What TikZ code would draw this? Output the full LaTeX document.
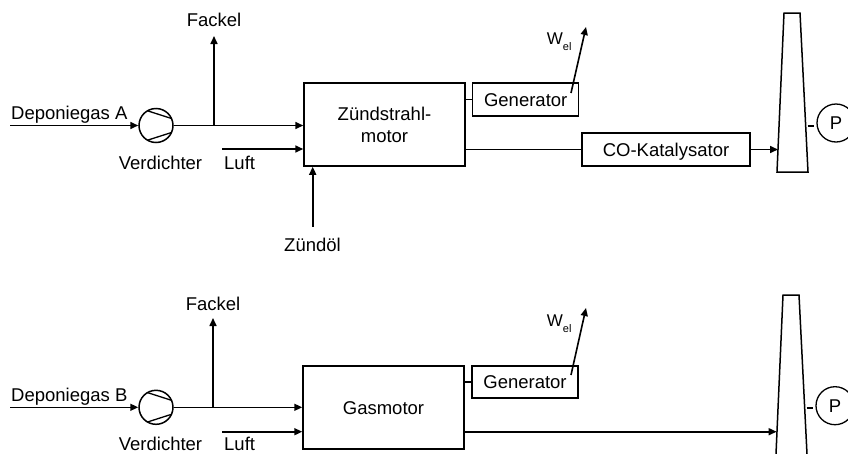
\documentclass[tikz,border=0pt]{standalone}
\usepackage{fontspec}
\setmainfont{Liberation Sans}
\usetikzlibrary{arrows.meta,calc}
\begin{document}
\begin{tikzpicture}[x=1pt,y=-1pt,
  every node/.style={font=\fontsize{18.5}{22}\selectfont, inner sep=0pt},
  ln/.style={line width=1.6pt},
  arr/.style={line width=1.6pt,-{Triangle[length=8pt,width=7pt]}},
  blk/.style={draw,line width=1.5pt,rectangle,align=center},
  sblk/.style={blk,text height=13.3pt,text depth=0pt},
  lbl/.style={anchor=base},
  lblw/.style={anchor=base west},
  comp/.style={draw,circle,line width=1.5pt,minimum size=34pt},
  pcirc/.style={draw,circle,line width=1.3pt,minimum size=38pt,text height=13.3pt,text depth=0pt},
  stack/.style={line width=1.5pt,line join=miter}]
\useasboundingbox (0,0) rectangle (848,453);
\clip (0,0) rectangle (848,453);

% ===== top: Deponiegas A =====
\node[comp] (c1) at (156,125.5) {};
\draw[line width=1.3pt] ($(c1)+(-8.5,-14.7)$) -- ($(c1)+(15.5,-7)$);
\draw[line width=1.3pt] ($(c1)+(-8.5,14.7)$) -- ($(c1)+(15.5,7)$);
\coordinate (depA) at (10,125.5);
\node[lblw] (tdepA) at (11,119) {Deponiegas A};
\node[lbl] (verA) at (160.5,169) {Verdichter};
\node[blk,minimum width=161pt,minimum height=83pt] (m1) at (384.5,124.5) {Zündstrahl-\\motor};
\node[sblk,minimum width=106pt,minimum height=33pt] (g1) at (525.7,99.5) {Generator};
\node[sblk,minimum width=168pt,minimum height=33pt] (co) at (666,149.5) {CO-Katalysator};
\node[lbl] (f1) at (214,26) {Fackel};
\coordinate (fb1) at (214,125.5);
\node[lblw] (l1) at (224,169) {Luft};
\coordinate (la1) at (222,149);
\node[lbl] (z1) at (312.5,251.7) {Zündöl};
\coordinate (zo) at (312.7,226.7);
\coordinate (w1a) at (571,93);
\coordinate (w1b) at (586,27);
\node[lblw] (w1) at (546.7,44.3) {\fontsize{17}{20}\selectfont W\raisebox{-6pt}{\fontsize{11}{12}\selectfont el}};
% stack 1
\coordinate (s1tl) at (784,13);
\coordinate (s1tr) at (800,13);
\coordinate (s1br) at (808,172);
\coordinate (s1bl) at (777,172);
\draw[stack] (s1tl) -- (s1tr) -- (s1br) -- (s1bl) -- cycle;
\coordinate (s1in) at (778,149.5);
\node[pcirc] (p1) at (836,123) {P};
\coordinate (s1p) at (807.5,126);
\coordinate (p1d) at (814,126);

\draw[arr] (depA) -- (c1.west);
\draw[arr] (c1.east) -- (m1.west |- c1.east);
\draw[arr] (fb1) -- ($(f1.base)+(0,10)$);
\draw[arr] (la1) -- (m1.west |- la1);
\draw[arr] (zo) -- (zo |- m1.south);
\draw[ln] (m1.east |- g1.west) -- (g1.west);
\draw[arr] (w1a) -- (w1b);
\draw[ln] (m1.east |- co.west) -- (co.west);
\draw[arr] (co.east) -- (s1in);
\draw[ln] (s1p) -- (p1d);

% ===== bottom: Deponiegas B =====
\node[comp] (c2) at (156,407.3) {};
\draw[line width=1.3pt] ($(c2)+(-8.5,-14.7)$) -- ($(c2)+(15.5,-7)$);
\draw[line width=1.3pt] ($(c2)+(-8.5,14.7)$) -- ($(c2)+(15.5,7)$);
\coordinate (depB) at (10,407.3);
\node[lblw] (tdepB) at (11,401.7) {Deponiegas B};
\node[lbl] (verB) at (160.5,450) {Verdichter};
\node[sblk,minimum width=161pt,minimum height=83pt] (m2) at (383.5,407.5) {Gasmotor};
\node[sblk,minimum width=106pt,minimum height=32pt] (g2) at (525,382) {Generator};
\node[lbl] (f2) at (213,310) {Fackel};
\coordinate (fb2) at (213,407.3);
\node[lblw] (l2) at (224,450) {Luft};
\coordinate (la2) at (222,431.7);
\coordinate (w2a) at (571,375);
\coordinate (w2b) at (586,308);
\node[lblw] (w2) at (546.7,326) {\fontsize{17}{20}\selectfont W\raisebox{-6pt}{\fontsize{11}{12}\selectfont el}};
% stack 2
\coordinate (s2tl) at (783,295);
\coordinate (s2tr) at (799,295);
\coordinate (s2br) at (807.8,470);
\coordinate (s2bl) at (775.3,470);
\draw[stack] (s2bl) -- (s2tl) -- (s2tr) -- (s2br);
\coordinate (s2in) at (776.6,431.7);
\node[pcirc] (p2) at (835,405.7) {P};
\coordinate (s2p) at (806.5,408);
\coordinate (p2d) at (813,408);

\draw[arr] (depB) -- (c2.west);
\draw[arr] (c2.east) -- (m2.west |- c2.east);
\draw[arr] (fb2) -- ($(f2.base)+(0,8)$);
\draw[arr] (la2) -- (m2.west |- la2);
\draw[ln] (m2.east |- g2.west) -- (g2.west);
\draw[arr] (w2a) -- (w2b);
\draw[arr] (m2.east |- la2) -- (s2in);
\draw[ln] (s2p) -- (p2d);
\end{tikzpicture}
\end{document}
